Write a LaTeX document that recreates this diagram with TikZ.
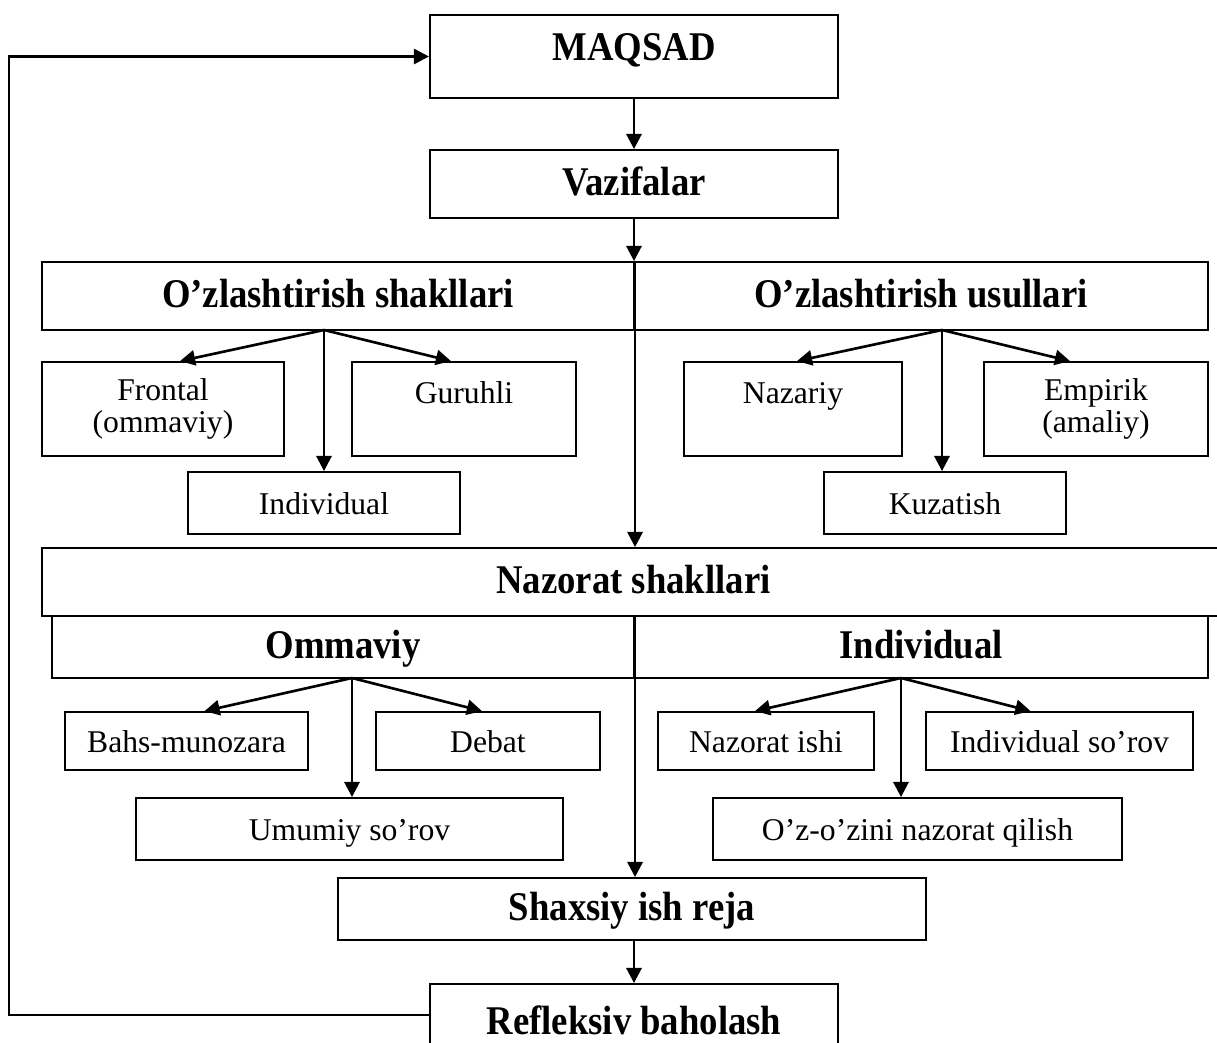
\documentclass[tikz,border=0pt]{standalone}
\usepackage{fontspec}
\setmainfont{Liberation Serif}
\newfontfamily\narrowbold[FakeStretch=0.9]{Liberation Serif}
\usetikzlibrary{arrows.meta}
\usetikzlibrary{calc}

\tikzset{
	box/.style={draw, line width=0.5pt, inner sep=0pt, align=center},
	head/.style={box, font=\fontsize{11.6}{13.9}\narrowbold\bfseries, text height=0.66em, text depth=0pt},
	leaf/.style={box, font=\fontsize{9}{9.3}\selectfont},
	leafone/.style={leaf, text height=0.66em, text depth=0pt},
	conn/.style={line width=0.75pt, -{Triangle[length=4.3pt,width=4.3pt]}}
}

\begin{document}
\begin{tikzpicture}[x=0.01cm, y=0.01cm]
\useasboundingbox (0,0) rectangle (1217,-1043);
	\node[head, minimum width=4.08cm, minimum height=0.83cm, text depth=0.16cm] (maqsad) at (634,-56.5) {MAQSAD};
	\node[head, minimum width=4.08cm, minimum height=0.68cm] (vazifa) at (634,-184) {Vazifalar};
	\node[head, minimum width=5.92cm, minimum height=0.68cm] (shakl) at (338,-296) {O’zlashtirish shakllari};
	\node[head, minimum width=5.74cm, minimum height=0.68cm] (usul) at (921,-296) {O’zlashtirish usullari};
	\node[leaf, minimum width=2.42cm, minimum height=0.94cm] (frontal) at (163,-409) {Frontal\\(ommaviy)};
	\node[leaf, minimum width=2.24cm, minimum height=0.94cm] (guruhli) at (464,-409) {Guruhli\\\mbox{}};
	\node[leafone, minimum width=2.72cm, minimum height=0.62cm] (indiv) at (324,-503) {Individual};
	\node[leaf, minimum width=2.18cm, minimum height=0.94cm] (nazariy) at (793,-409) {Nazariy\\\mbox{}};
	\node[leaf, minimum width=2.24cm, minimum height=0.94cm] (empirik) at (1096,-409) {Empirik\\(amaliy)};
	\node[leafone, minimum width=2.42cm, minimum height=0.62cm] (kuzatish) at (945,-503) {Kuzatish};
	\node[head, minimum width=11.83cm, minimum height=0.68cm] (nazorat) at (633.5,-582) {Nazorat shakllari};
	\node[head, minimum width=5.82cm, minimum height=0.62cm] (ommaviy) at (343,-647) {Ommaviy};
	\node[head, minimum width=5.74cm, minimum height=0.62cm] (individ) at (921,-647) {Individual};
	\node[leafone, minimum width=2.43cm, minimum height=0.58cm] (bahs) at (186.5,-741) {Bahs-munozara};
	\node[leafone, minimum width=2.24cm, minimum height=0.58cm] (debat) at (488,-741) {Debat};
	\node[leafone, minimum width=4.27cm, minimum height=0.62cm] (umumiy) at (349.5,-829) {Umumiy so’rov};
	\node[leafone, minimum width=2.16cm, minimum height=0.58cm] (nishi) at (766,-741) {Nazorat ishi};
	\node[leafone, minimum width=2.67cm, minimum height=0.58cm] (isorov) at (1059.5,-741) {Individual so’rov};
	\node[leafone, minimum width=4.09cm, minimum height=0.62cm] (ozini) at (917.5,-829) {O’z-o’zini nazorat qilish};
	\node[head, minimum width=5.88cm, minimum height=0.62cm] (shaxsiy) at (632,-909) {Shaxsiy ish reja};
	\node[head, minimum width=4.08cm, minimum height=0.78cm] (reflex) at (634,-1023) {Refleksiv baholash};
	\coordinate (sfan) at (324,-330);
	\coordinate (ufan) at (942,-330);
	\coordinate (ofan) at (352,-678);
	\coordinate (ifan) at (901,-678);
	\coordinate (fb) at (9,-56.5);
\draw[conn] (maqsad) -- (vazifa);
\draw[conn] (vazifa) -- (vazifa.south |- shakl.north);
\draw[conn] (shakl.north east) -- (shakl.north east |- nazorat.north);
\draw[conn] (ommaviy.north east) -- (ommaviy.north east |- shaxsiy.north);
\draw[conn] (reflex.north |- shaxsiy.south) -- (reflex);
\draw[conn] ([yshift=0.08cm]reflex.west) -| (fb) -- (maqsad.west);
\draw[conn] (sfan) -- ([xshift=0.17cm]frontal.north);
\draw[conn] (sfan) -- ([xshift=-0.13cm]guruhli.north);
\draw[conn] (sfan) -- (sfan |- indiv.north);
\draw[conn] (ufan) -- ([xshift=0.04cm]nazariy.north);
\draw[conn] (ufan) -- ([xshift=-0.26cm]empirik.north);
\draw[conn] (ufan) -- (ufan |- kuzatish.north);
\draw[conn] (ofan) -- ([xshift=0.18cm]bahs.north);
\draw[conn] (ofan) -- ([xshift=-0.06cm]debat.north);
\draw[conn] (ofan) -- (ofan |- umumiy.north);
\draw[conn] (ifan) -- ([xshift=-0.11cm]nishi.north);
\draw[conn] (ifan) -- ([xshift=-0.29cm]isorov.north);
\draw[conn] (ifan) -- (ifan |- ozini.north);
\end{tikzpicture}
\end{document}
